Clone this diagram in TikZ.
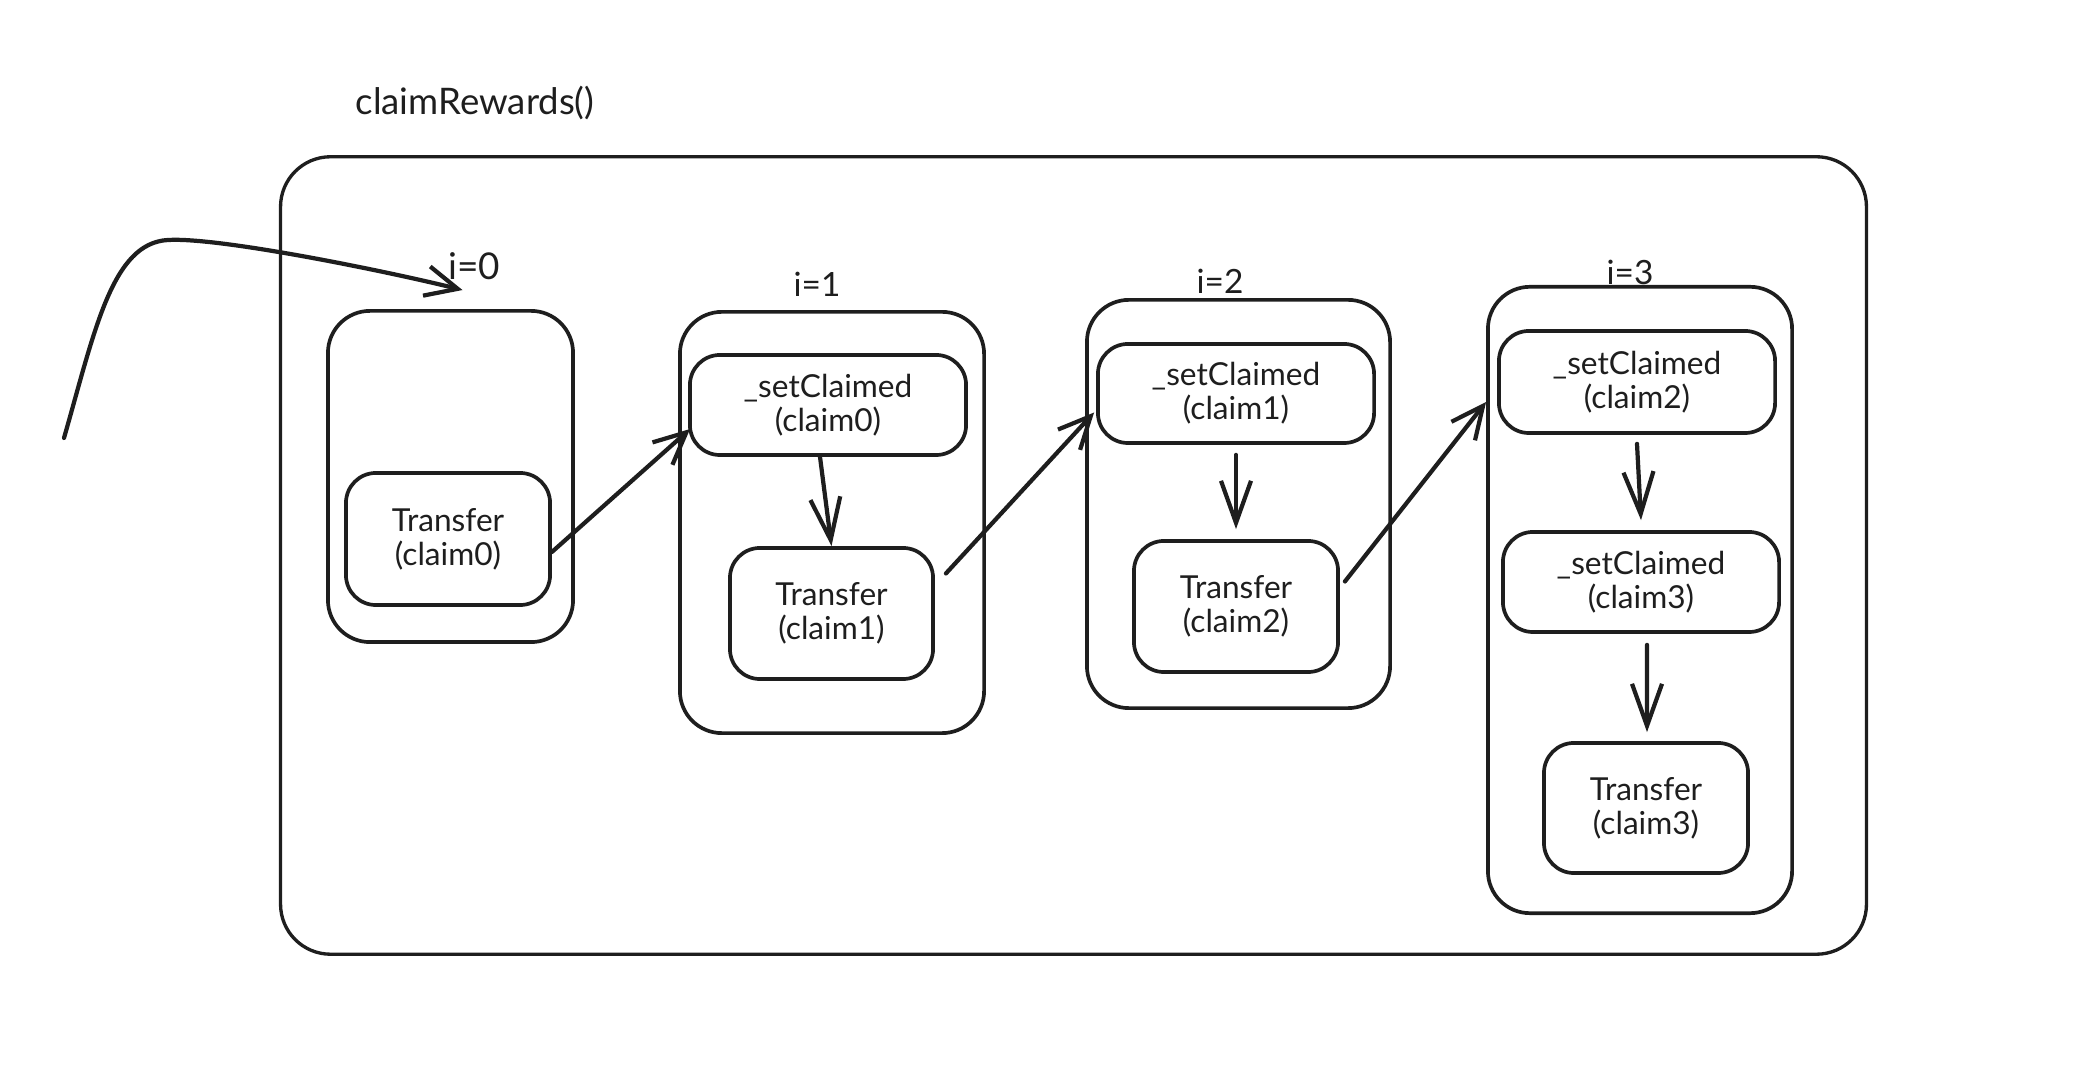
\documentclass[tikz,border=0pt]{standalone}
\usepackage{fontspec}
\setmainfont{Lato}
\usetikzlibrary{arrows.meta}
\definecolor{ink}{HTML}{1E1E1E}
\begin{document}
\begin{tikzpicture}[x=0.01cm,y=-0.01cm,
  box/.style={draw=ink, line width=1.05pt, rounded corners=0.3cm, inner sep=0pt, align=center,
              text=ink, font=\fontsize{9}{9.6}\selectfont},
  cont/.style={draw=ink, line width=1.05pt, rounded corners=0.42cm, inner sep=0pt},
  outerbox/.style={draw=ink, line width=0.95pt, rounded corners=0.5cm, inner sep=0pt},
  lbl/.style={font=\fontsize{9.5}{12}\selectfont, text=ink, inner sep=1pt},
  arr/.style={draw=ink, line width=1.2pt, line cap=round,
              -{Straight Barb[length=0.32cm,width=0.3cm,line width=1.2pt]}},
  varr/.style={draw=ink, line width=1.2pt, line cap=round,
              -{Straight Barb[length=0.42cm,width=0.3cm,line width=1.2pt]}}]
\useasboundingbox (0,0) rectangle (2100,1074);

% title
\node[lbl, font=\fontsize{10.4}{13}\selectfont] (title) at (475,103) {claimRewards()};

% outer frame
\node[outerbox, minimum width=15.85cm, minimum height=7.97cm] (outer) at (1073.5,555.5) {};

% containers
\node[cont, minimum width=2.45cm, minimum height=3.31cm] (b0) at (450.5,476.5) {};
\node[cont, minimum width=3.04cm, minimum height=4.21cm] (b1) at (832,522.5) {};
\node[cont, minimum width=3.03cm, minimum height=4.08cm] (b2) at (1238.5,504) {};
\node[cont, minimum width=3.04cm, minimum height=6.26cm] (b3) at (1640,600) {};

% loop labels
\node[lbl, font=\fontsize{10.5}{12}\selectfont] (l0) at (474,266) {i=0};
\node[lbl] (l1) at (817,284) {i=1};
\node[lbl] (l2) at (1220,281) {i=2};
\node[lbl] (l3) at (1630,272) {i=3};

% inner steps
\node[box, minimum width=2.04cm, minimum height=1.32cm] (t0) at (448,539) {Transfer\\(claim0)};

\node[box, minimum width=2.76cm, minimum height=1.00cm] (s0) at (828,405) {\_setClaimed\\(claim0)};
\node[box, minimum width=2.03cm, minimum height=1.31cm] (t1) at (831.5,613.5) {Transfer\\(claim1)};

\node[box, minimum width=2.76cm, minimum height=0.99cm] (s1) at (1236,393.5) {\_setClaimed\\(claim1)};
\node[box, minimum width=2.04cm, minimum height=1.31cm] (t2) at (1236,606.5) {Transfer\\(claim2)};

\node[box, minimum width=2.76cm, minimum height=1.02cm] (s2) at (1637,382) {\_setClaimed\\(claim2)};
\node[box, minimum width=2.76cm, minimum height=1.00cm] (s3) at (1641,582) {\_setClaimed\\(claim3)};
\node[box, minimum width=2.04cm, minimum height=1.30cm] (t3) at (1646,808) {Transfer\\(claim3)};

% entry arrow
\coordinate (start) at (64,438);
\draw[arr] (start) .. controls (95,330) and (112,243) .. (168,240)
  .. controls (220,237) and (390,272) .. ([xshift=0.12cm,yshift=0.19cm]b0.north);

% connectors
\draw[arr] ([yshift=-0.13cm]t0.east) -- ([xshift=0.02cm,yshift=-0.24cm]s0.west);
\draw[varr] ([xshift=-0.08cm]s0.south) -- (t1.north);
\draw[arr] ([xshift=0.11cm,yshift=0.40cm]t1.east) -- ([xshift=-0.02cm,yshift=-0.19cm]s1.west);
\draw[varr] ([yshift=-0.1cm]s1.south) -- ([yshift=0.1cm]t2.north);
\draw[arr] ([xshift=0.05cm,yshift=0.25cm]t2.east) -- ([xshift=-0.11cm,yshift=-0.20cm]s2.west);
\draw[varr] ([yshift=-0.09cm]s2.south) -- ([yshift=0.10cm]s3.north);
\draw[varr] ([xshift=0.06cm,yshift=-0.11cm]s3.south) -- ([xshift=0.01cm,yshift=0.09cm]t3.north);
\end{tikzpicture}
\end{document}
